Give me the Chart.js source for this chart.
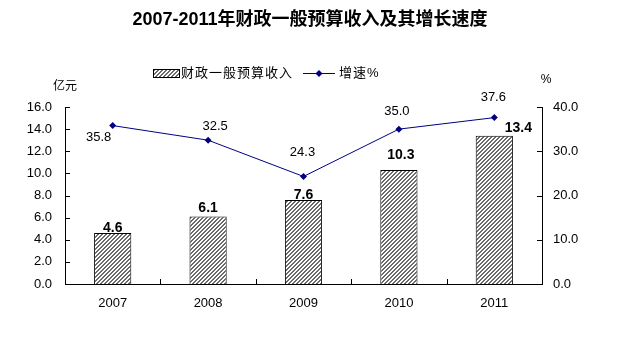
<!DOCTYPE html>
<html>
<head>
<meta charset="utf-8">
<script src="https://cdn.jsdelivr.net/npm/chart.js@4/dist/chart.umd.min.js"></script>
<style>
  html, body { margin: 0; padding: 0; background: #fff; }
  #wrap { width: 619px; height: 343px; }
</style>
</head>
<body>
<div id="wrap"><canvas id="chart" width="619" height="343"></canvas></div>
<script>
// 数据
const years = ['2007', '2008', '2009', '2010', '2011'];
const revenue = [4.6, 6.1, 7.6, 10.3, 13.4];      // 财政一般预算收入（亿元）
const growth = [35.8, 32.5, 24.3, 35.0, 37.6];    // 增速 %
const leftAxis = { min: 0, max: 16, step: 2 };
const rightAxis = { min: 0, max: 40, step: 10 };

// 标签微调（像素偏移）
const revLabelShift = [[0, 0], [0, -3], [0, 0], [2, -10], [24, -3]];
const growthLabelShift = [[-14, 12], [7, -14], [-1, -24], [-2, -18], [-1, -20]];

const FONT = "'Liberation Sans', Arial, 'Noto Sans CJK SC', sans-serif";
const LINE_COLOR = '#000080';

// 斜线填充
function makeHatch() {
    const c = document.createElement('canvas');
    c.width = 4; c.height = 4;
    const g = c.getContext('2d');
    g.fillStyle = '#ffffff';
    g.fillRect(0, 0, 4, 4);
    g.fillStyle = '#6a6a6a';
    for (let i = 0; i < 4; i++) {
        // 每行两个灰点，形成 //// 斜纹
        const x = (3 - i + 4) % 4;
        g.fillRect(x, i, 1, 1);
        g.fillRect((x + 1) % 4, i, 1, 1);
    }
    return g.createPattern(c, 'repeat');
}
const hatch = makeHatch();

// 标题、图例、数值标签和内向刻度
const decorPlugin = {
    id: 'decor',
    afterDraw(chart) {
        const ctx = chart.ctx;
        const area = chart.chartArea;
        const x = chart.scales.x, y = chart.scales.y, y1 = chart.scales.y1;
        ctx.save();

        // 标题
        ctx.fillStyle = '#000';
        ctx.font = 'bold 18px ' + FONT;
        ctx.textAlign = 'center';
        ctx.textBaseline = 'middle';
        ctx.fillText('2007-2011年财政一般预算收入及其增长速度', 310, 20);

        // 图例
        ctx.font = '13px ' + FONT;
        ctx.letterSpacing = '1px';
        ctx.textAlign = 'left';
        ctx.fillStyle = hatch;
        ctx.fillRect(153, 69, 26, 8);
        ctx.strokeStyle = '#000';
        ctx.lineWidth = 1;
        ctx.strokeRect(153.5, 69.5, 26, 8);
        ctx.fillStyle = '#000';
        ctx.fillText('财政一般预算收入', 181, 73);
        ctx.strokeStyle = LINE_COLOR;
        ctx.beginPath();
        ctx.moveTo(303, 73.5);
        ctx.lineTo(335, 73.5);
        ctx.stroke();
        ctx.fillStyle = LINE_COLOR;
        ctx.beginPath();
        ctx.moveTo(319, 70); ctx.lineTo(322.5, 73.5); ctx.lineTo(319, 77); ctx.lineTo(315.5, 73.5);
        ctx.closePath();
        ctx.fill();
        ctx.fillStyle = '#000';
        ctx.fillText('增速%', 339, 73);
        ctx.letterSpacing = '0px';

        // 轴单位
        ctx.font = '12px ' + FONT;
        ctx.textAlign = 'center';
        ctx.fillText('亿元', 65, 87);
        ctx.fillText('%', 546, 80);

        // 内向刻度
        ctx.strokeStyle = '#000';
        ctx.lineWidth = 1;
        ctx.beginPath();
        for (let v = leftAxis.min; v <= leftAxis.max; v += leftAxis.step) {
            const py = Math.round(y.getPixelForValue(v)) + 0.5;
            ctx.moveTo(area.left, py); ctx.lineTo(area.left + 5, py);
        }
        for (let v = rightAxis.min; v <= rightAxis.max; v += rightAxis.step) {
            const py = Math.round(y1.getPixelForValue(v)) + 0.5;
            ctx.moveTo(area.right - 5, py); ctx.lineTo(area.right, py);
        }
        const half = (x.getPixelForValue(1) - x.getPixelForValue(0)) / 2;
        for (let i = 1; i < years.length; i++) {
            const px = Math.round(x.getPixelForValue(i) - half) + 0.5;
            ctx.moveTo(px, area.bottom); ctx.lineTo(px, area.bottom - 5);
        }
        ctx.stroke();

        // 柱顶数值
        const barMeta = chart.getDatasetMeta(0);
        ctx.font = 'bold 14px ' + FONT;
        ctx.fillStyle = '#000';
        ctx.textAlign = 'center';
        ctx.textBaseline = 'bottom';
        barMeta.data.forEach((bar, i) => {
            const s = revLabelShift[i];
            ctx.fillText(revenue[i].toFixed(1), bar.x + s[0], bar.y + 2 + s[1]);
        });

        // 折线数值
        const lineMeta = chart.getDatasetMeta(1);
        ctx.font = '13px ' + FONT;
        ctx.textBaseline = 'middle';
        lineMeta.data.forEach((pt, i) => {
            const s = growthLabelShift[i];
            ctx.fillText(growth[i].toFixed(1), pt.x + s[0], pt.y + s[1]);
        });

        ctx.restore();
    }
};

new Chart(document.getElementById('chart'), {
    data: {
        labels: years,
        datasets: [
            {
                type: 'bar',
                label: '财政一般预算收入',
                data: revenue,
                yAxisID: 'y',
                backgroundColor: hatch,
                borderColor: '#000',
                borderWidth: 1,
                categoryPercentage: 1,
                barPercentage: 0.39,
                order: 2
            },
            {
                type: 'line',
                label: '增速%',
                data: growth,
                yAxisID: 'y1',
                borderColor: LINE_COLOR,
                borderWidth: 1,
                pointStyle: 'rectRot',
                pointRadius: 3.5,
                pointBackgroundColor: LINE_COLOR,
                pointBorderColor: LINE_COLOR,
                pointBorderWidth: 0,
                tension: 0,
                order: 1
            }
        ]
    },
    options: {
        responsive: false,
        animation: false,
        events: [],
        layout: { padding: { top: 107, left: 0, right: 0, bottom: 0 } },
        plugins: {
            legend: { display: false },
            title: { display: false },
            tooltip: { enabled: false }
        },
        scales: {
            x: {
                offset: true,
                grid: { display: false, drawTicks: false },
                border: { display: true, color: '#000', width: 1 },
                ticks: { color: '#000', padding: 12, font: { family: FONT, size: 13 } },
                afterFit: s => { s.height = 59; }
            },
            y: {
                position: 'left',
                min: leftAxis.min,
                max: leftAxis.max,
                grid: { display: false, drawTicks: false },
                border: { display: true, color: '#000', width: 1 },
                ticks: {
                    stepSize: leftAxis.step,
                    color: '#000',
                    padding: 13,
                    font: { family: FONT, size: 13 },
                    callback: v => v.toFixed(1)
                },
                afterFit: s => { s.width = 65; }
            },
            y1: {
                position: 'right',
                min: rightAxis.min,
                max: rightAxis.max,
                grid: { display: false, drawTicks: false },
                border: { display: true, color: '#000', width: 1 },
                ticks: {
                    stepSize: rightAxis.step,
                    color: '#000',
                    padding: 11,
                    font: { family: FONT, size: 13 },
                    callback: v => v.toFixed(1)
                },
                afterFit: s => { s.width = 77; }
            }
        }
    },
    plugins: [decorPlugin]
});
</script>
</body>
</html>
